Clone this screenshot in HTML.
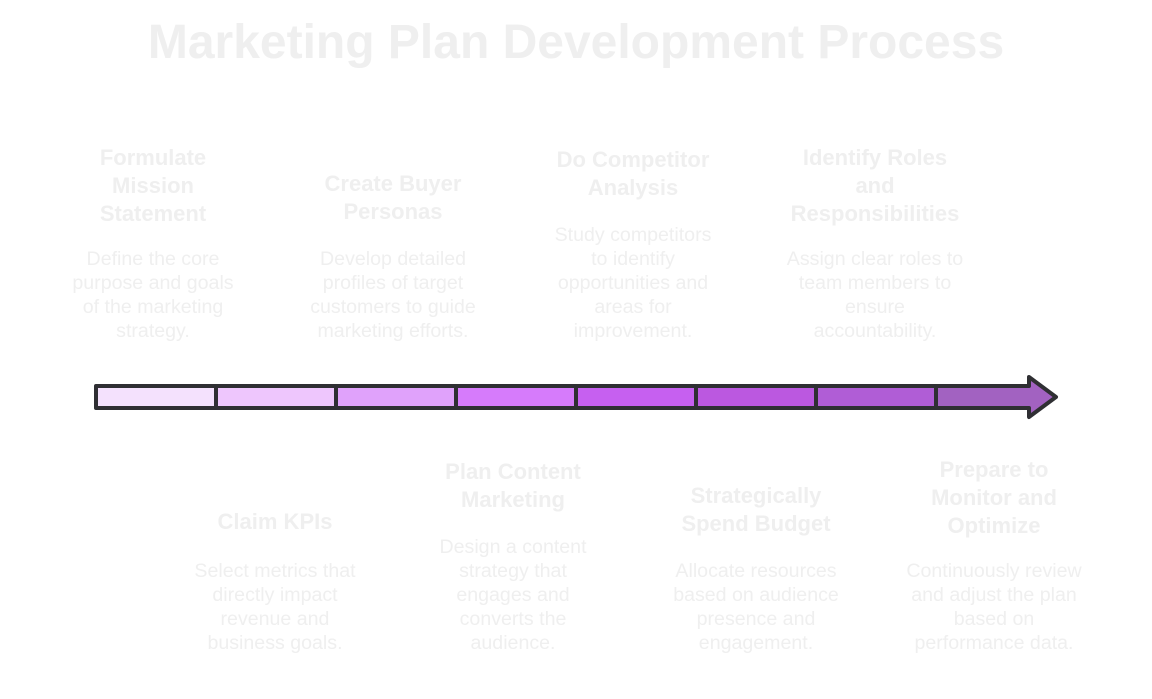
<!DOCTYPE html>
<html><head><meta charset="utf-8"><style>
body{margin:0;width:1152px;height:699px;background:#fff;position:relative;overflow:hidden;font-family:"Liberation Sans",sans-serif;color:#efefef}
.t{position:absolute;left:0;width:1152px;text-align:center;top:13px;font-size:48px;font-weight:bold;line-height:60px}
.h{position:absolute;width:240px;text-align:center;font-size:22px;font-weight:bold;line-height:28px}
.b{position:absolute;width:240px;text-align:center;font-size:19.6px;line-height:24px}
</style></head><body>
<div class="t">Marketing Plan Development Process</div>

<div class="h" style="left:33px;top:144px">Formulate<br>Mission<br>Statement</div>
<div class="b" style="left:33px;top:247px">Define the core<br>purpose and goals<br>of the marketing<br>strategy.</div>

<div class="h" style="left:273px;top:170px">Create Buyer<br>Personas</div>
<div class="b" style="left:273px;top:247px">Develop detailed<br>profiles of target<br>customers to guide<br>marketing efforts.</div>

<div class="h" style="left:513px;top:146px">Do Competitor<br>Analysis</div>
<div class="b" style="left:513px;top:223px">Study competitors<br>to identify<br>opportunities and<br>areas for<br>improvement.</div>

<div class="h" style="left:755px;top:144px">Identify Roles<br>and<br>Responsibilities</div>
<div class="b" style="left:755px;top:247px">Assign clear roles to<br>team members to<br>ensure<br>accountability.</div>

<div class="h" style="left:155px;top:508px">Claim KPIs</div>
<div class="b" style="left:155px;top:559px">Select metrics that<br>directly impact<br>revenue and<br>business goals.</div>

<div class="h" style="left:393px;top:458px">Plan Content<br>Marketing</div>
<div class="b" style="left:393px;top:535px">Design a content<br>strategy that<br>engages and<br>converts the<br>audience.</div>

<div class="h" style="left:636px;top:482px">Strategically<br>Spend Budget</div>
<div class="b" style="left:636px;top:559px">Allocate resources<br>based on audience<br>presence and<br>engagement.</div>

<div class="h" style="left:874px;top:456px">Prepare to<br>Monitor and<br>Optimize</div>
<div class="b" style="left:874px;top:559px">Continuously review<br>and adjust the plan<br>based on<br>performance data.</div>

<svg width="1152" height="699" style="position:absolute;left:0;top:0">
<g stroke="#2f2f33" stroke-width="4" stroke-linejoin="round">
<rect x="96" y="386" width="120" height="22" fill="#f4e1fd"/>
<rect x="216" y="386" width="120" height="22" fill="#eec6fd"/>
<rect x="336" y="386" width="120" height="22" fill="#e0a2fb"/>
<rect x="456" y="386" width="120" height="22" fill="#d67bfb"/>
<rect x="576" y="386" width="120" height="22" fill="#c660f0"/>
<rect x="696" y="386" width="120" height="22" fill="#bb58e0"/>
<rect x="816" y="386" width="120" height="22" fill="#b05dd6"/>
<path d="M936 386 H1029 V377 L1056 397 L1029 417 V408 H936 Z" fill="#a262c1"/>
</g></svg>
</body></html>
